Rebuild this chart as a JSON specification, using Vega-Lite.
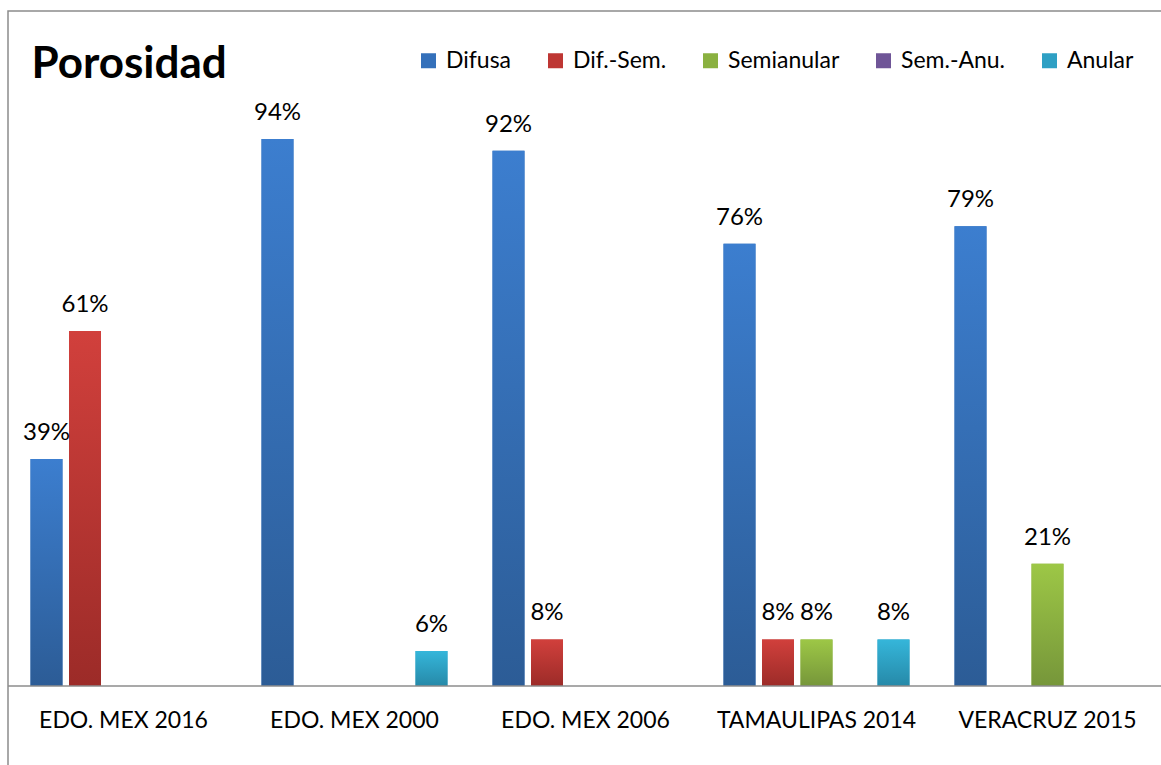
{
  "$schema": "https://vega.github.io/schema/vega-lite/v6.json",
  "width": 1155,
  "height": 770,
  "autosize": "none",
  "padding": {"left": 8, "top": 11, "right": 0, "bottom": 0},
  "background": "white",
  "config": {
    "view": {"stroke": "#8c8c8c", "strokeWidth": 1.5},
    "font": "Lato"
  },
  "data": {
    "values": [
      {"region": "EDO. MEX 2016", "tipo": "Difusa", "valor": 0.39},
      {"region": "EDO. MEX 2016", "tipo": "Dif.-Sem.", "valor": 0.61},
      {"region": "EDO. MEX 2000", "tipo": "Difusa", "valor": 0.94},
      {"region": "EDO. MEX 2000", "tipo": "Anular", "valor": 0.06},
      {"region": "EDO. MEX 2006", "tipo": "Difusa", "valor": 0.92},
      {"region": "EDO. MEX 2006", "tipo": "Dif.-Sem.", "valor": 0.08},
      {"region": "TAMAULIPAS 2014", "tipo": "Difusa", "valor": 0.76},
      {"region": "TAMAULIPAS 2014", "tipo": "Dif.-Sem.", "valor": 0.08},
      {"region": "TAMAULIPAS 2014", "tipo": "Semianular", "valor": 0.08},
      {"region": "TAMAULIPAS 2014", "tipo": "Anular", "valor": 0.08},
      {"region": "VERACRUZ 2015", "tipo": "Difusa", "valor": 0.79},
      {"region": "VERACRUZ 2015", "tipo": "Semianular", "valor": 0.21}
    ]
  },
  "encoding": {
    "x": {
      "field": "region", "type": "nominal",
      "sort": ["EDO. MEX 2016", "EDO. MEX 2000", "EDO. MEX 2006", "TAMAULIPAS 2014", "VERACRUZ 2015"],
      "scale": {"paddingInner": 0.1667, "paddingOuter": 0.0833},
      "axis": {
        "title": null, "orient": "bottom", "offset": -61, "domain": false, "ticks": false,
        "labelAngle": 0, "labelFontSize": 23, "labelFont": "Lato", "labelColor": "#000000",
        "labelPadding": 0, "labelBaseline": "middle", "labelLimit": 0, "grid": false
      }
    },
    "xOffset": {
      "field": "tipo", "type": "nominal",
      "scale": {"domain": ["Difusa", "Dif.-Sem.", "Semianular", "Sem.-Anu.", "Anular"], "paddingInner": 0.17, "paddingOuter": 0.085}
    },
    "y": {
      "field": "valor", "type": "quantitative",
      "scale": {"domain": [-0.1632, 1.16], "nice": false, "zero": false},
      "axis": {
        "title": "Porosidad", "labels": false, "ticks": false, "domain": false, "grid": false,
        "titleAngle": 0, "titleX": 23, "titleY": 66, "titleAlign": "left", "titleBaseline": "alphabetic",
        "titleFontSize": 44, "titleFont": "Lato", "titleFontWeight": "bold", "titleColor": "#000000"
      }
    }
  },
  "layer": [
    {
      "mark": {"type": "bar"},
      "encoding": {
        "color": {
          "field": "tipo", "type": "nominal",
          "scale": {
            "domain": ["Difusa", "Dif.-Sem.", "Semianular", "Sem.-Anu.", "Anular"],
            "range": ["#3470BA", "#BE3633", "#8AB140", "#6F5597", "#2EA0C4"]
          },
          "legend": {
            "title": null, "orient": "none", "direction": "horizontal", "columns": 5,
            "legendX": 409, "legendY": 38, "padding": 0,
            "symbolType": "square", "symbolSize": 225, "symbolStrokeWidth": 0,
            "labelFontSize": 23, "labelFont": "Lato", "labelColor": "#000000",
            "labelOffset": 6, "columnPadding": 32
          }
        }
      }
    },
    {
      "transform": [{"filter": "datum.tipo === 'Difusa'"}],
      "mark": {"type": "bar", "fill": {"gradient": "linear", "x1": 0, "y1": 0, "x2": 0, "y2": 1, "stops": [{"offset": 0, "color": "#3C7ECF"}, {"offset": 1, "color": "#2C5C96"}]}}
    },
    {
      "transform": [{"filter": "datum.tipo === 'Dif.-Sem.'"}],
      "mark": {"type": "bar", "fill": {"gradient": "linear", "x1": 0, "y1": 0, "x2": 0, "y2": 1, "stops": [{"offset": 0, "color": "#D1403C"}, {"offset": 1, "color": "#9C2B28"}]}}
    },
    {
      "transform": [{"filter": "datum.tipo === 'Semianular'"}],
      "mark": {"type": "bar", "fill": {"gradient": "linear", "x1": 0, "y1": 0, "x2": 0, "y2": 1, "stops": [{"offset": 0, "color": "#9DC746"}, {"offset": 1, "color": "#76963A"}]}}
    },
    {
      "transform": [{"filter": "datum.tipo === 'Anular'"}],
      "mark": {"type": "bar", "fill": {"gradient": "linear", "x1": 0, "y1": 0, "x2": 0, "y2": 1, "stops": [{"offset": 0, "color": "#35B6DA"}, {"offset": 1, "color": "#2689A8"}]}}
    },
    {
      "mark": {"type": "text", "baseline": "alphabetic", "dy": -19, "fontSize": 24, "font": "Lato", "color": "#000000"},
      "encoding": {
        "text": {"field": "valor", "type": "quantitative", "format": ".0%"}
      }
    },
    {
      "data": {"values": [{"cero": 0}]},
      "mark": {"type": "rule", "color": "#8c8c8c", "strokeWidth": 1.5},
      "encoding": {"x": null, "xOffset": null, "y": {"field": "cero", "type": "quantitative"}}
    }
  ]
}
